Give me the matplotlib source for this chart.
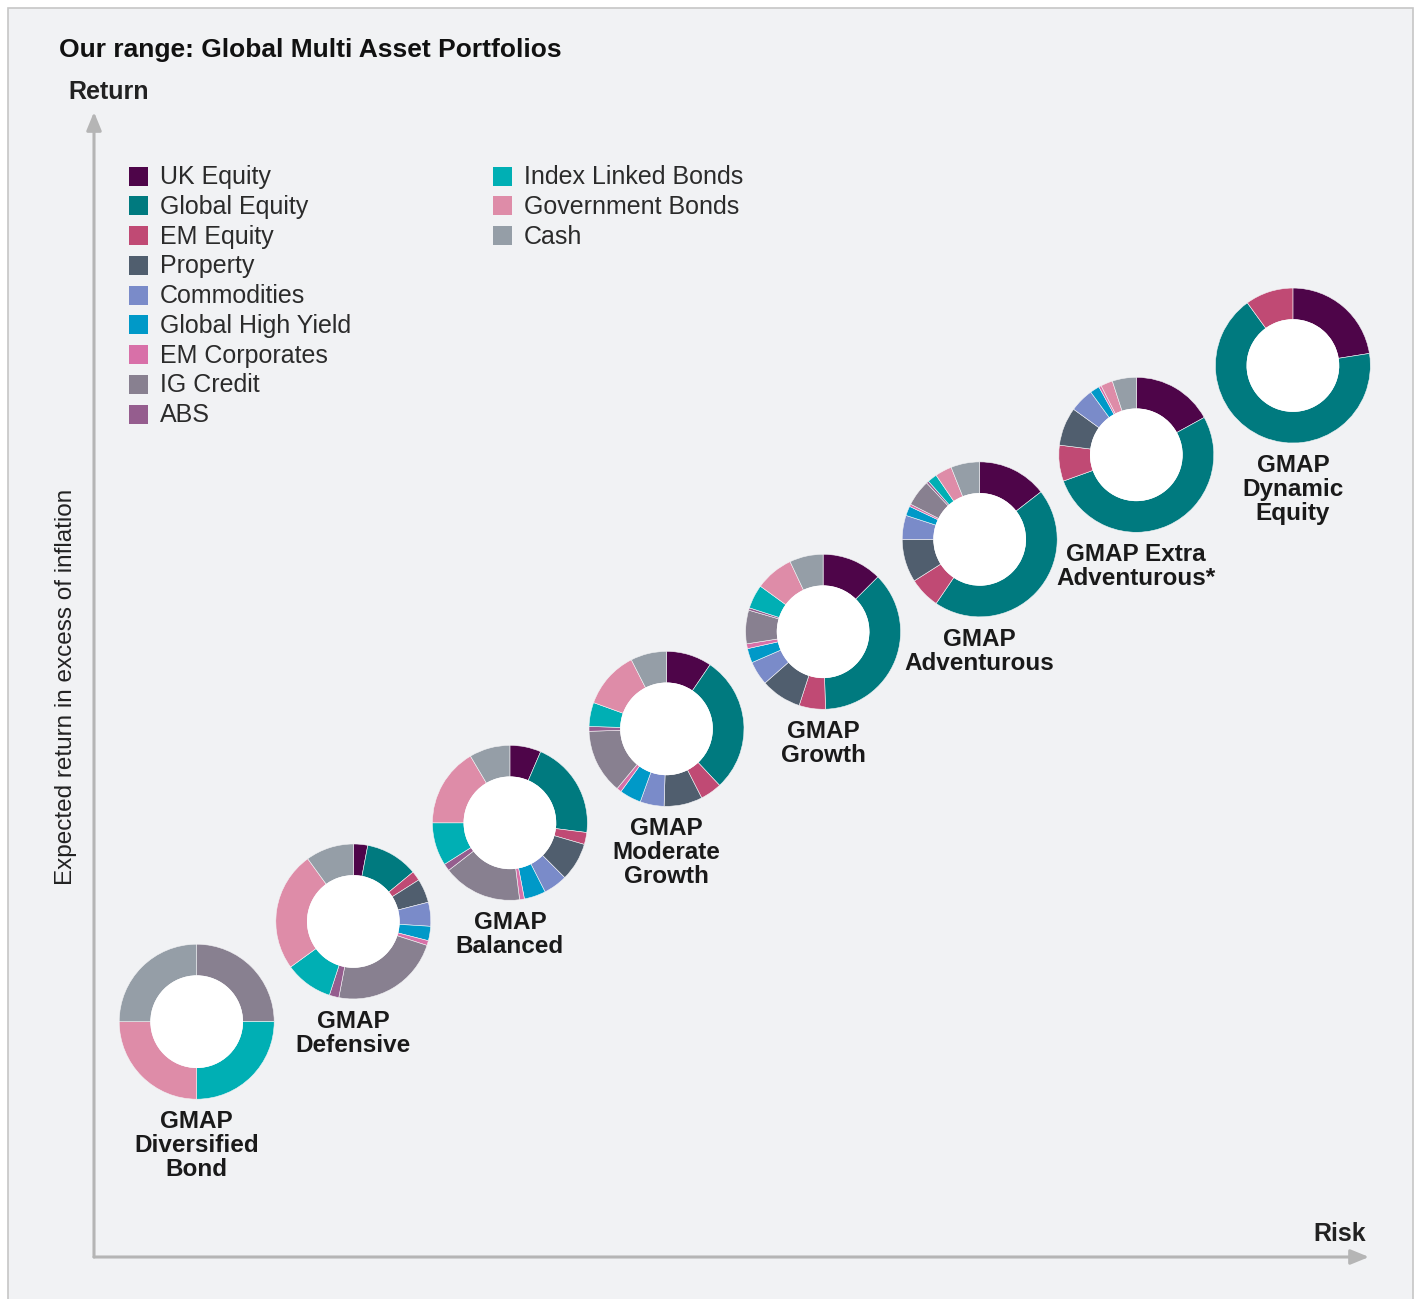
import matplotlib
matplotlib.use("Agg")
import matplotlib.pyplot as plt
from matplotlib.patches import Rectangle, Circle

# ---------------- data ----------------
asset_classes = ["UK Equity", "Global Equity", "EM Equity", "Property", "Commodities",
                 "Global High Yield", "EM Corporates", "IG Credit", "ABS",
                 "Index Linked Bonds", "Government Bonds", "Cash"]
asset_colors = ["#4e0549", "#007a7f", "#c04a74", "#505e6e", "#7a8bc9",
                "#0099c8", "#d870a8", "#888090", "#955d8e",
                "#00afb4", "#de8ca8", "#959ea7"]

portfolios = ["GMAP\nDiversified\nBond", "GMAP\nDefensive", "GMAP\nBalanced",
              "GMAP\nModerate\nGrowth", "GMAP\nGrowth", "GMAP\nAdventurous",
              "GMAP Extra\nAdventurous*", "GMAP\nDynamic\nEquity"]

# allocation (%) per asset class, order as asset_classes
alloc_diversified_bond = [0, 0, 0, 0, 0, 0, 0, 25, 0, 25, 25, 25]
alloc_defensive        = [3, 11, 2, 5, 5, 3, 1, 23, 2, 10, 25, 10]
alloc_balanced         = [6.5, 20.5, 2.5, 8, 5, 4.5, 1, 16.5, 1.5, 9, 16.5, 8.5]
alloc_moderate_growth  = [9.5, 28.5, 4.5, 8, 5, 4.5, 1, 13.5, 1, 5, 12, 7.5]
alloc_growth           = [12.5, 37, 5.5, 8.5, 5, 3, 1, 7, 0.5, 5, 8, 7]
alloc_adventurous      = [14.5, 45, 6.5, 9, 5, 2, 0.5, 5.5, 0.5, 2, 3.5, 6]
alloc_extra_adventurous = [17, 52.5, 7.5, 8, 5, 2, 0.5, 0, 0, 0, 2.5, 5]
alloc_dynamic_equity   = [22.5, 67.5, 10, 0, 0, 0, 0, 0, 0, 0, 0, 0]

allocations = [alloc_diversified_bond, alloc_defensive, alloc_balanced,
               alloc_moderate_growth, alloc_growth, alloc_adventurous,
               alloc_extra_adventurous, alloc_dynamic_equity]

# relative risk / expected return positions (arbitrary units)
risk_level = [1, 2, 3, 4, 5, 6, 7, 8]
return_level = [1.0, 1.64, 2.27, 2.87, 3.49, 4.08, 4.62, 5.19]

# ---------------- layout ----------------
W, H = 1418, 1299
DPI = 100
BG = "#f1f2f4"
AXC = "#b5b5b5"
TXT = "#1a1a1a"
FONT = ["Liberation Sans", "DejaVu Sans"]
plt.rcParams["font.family"] = FONT

fig = plt.figure(figsize=(W / DPI, H / DPI), dpi=DPI)
fig.patch.set_facecolor("white")

# overlay axes in pixel coordinates for frame / titles / legend
ov = fig.add_axes([0, 0, 1, 1])
ov.set_xlim(0, W)
ov.set_ylim(H, 0)
ov.axis("off")
ov.add_patch(Rectangle((8, 8), 1405, H + 10, facecolor=BG, edgecolor="#c6c6c6", lw=1.2, zorder=0))

ov.text(59, 57, "Our range: Global Multi Asset Portfolios", fontsize=19, fontweight="bold",
        color="#111111", ha="left", va="baseline")
ov.text(68, 99, "Return", fontsize=18, fontweight="bold", color="#222222", ha="left", va="baseline")
ov.text(1366, 1241, "Risk", fontsize=18, fontweight="bold", color="#222222", ha="right", va="baseline")
ov.text(66, 687, "Expected return in excess of inflation", fontsize=17.5, color="#222222",
        rotation=90, ha="center", va="center")

# legend (9 + 3 layout)
row_h = 29.75
for i, (name, col) in enumerate(zip(asset_classes, asset_colors)):
    if i < 9:
        x0, r = 129, i
    else:
        x0, r = 493, i - 9
    yc = 176 + r * row_h
    ov.add_patch(Rectangle((x0, yc - 9.5), 19, 19, facecolor=col, edgecolor="none"))
    ov.text(x0 + 31, yc + 8, name, fontsize=18, color="#2b2b2b", ha="left", va="baseline")

# plot axes: origin of arrows
px_left, px_right, px_bottom, px_top = 94, 1369, 1257, 112
scale = 156.6  # pixels per unit
x_first_px, y_first_px = 196.7, 1021.7
ax = fig.add_axes([px_left / W, (H - px_bottom) / H, (px_right - px_left) / W, (px_bottom - px_top) / H])
ax.patch.set_alpha(0)

R_out = 77.5 / scale
R_in = 46.0 / scale

for name, alloc, rx, ry in zip(portfolios, allocations, risk_level, return_level):
    vals = [v for v in alloc if v > 0]
    cols = [c for v, c in zip(alloc, asset_colors) if v > 0]
    ax.pie(vals, colors=cols, startangle=90, counterclock=False, radius=R_out,
           center=(rx, ry), wedgeprops=dict(width=R_out - R_in, edgecolor="#f4f4f6", linewidth=0.4))
    ax.add_patch(Circle((rx, ry), R_in + 0.002, facecolor="white", edgecolor="none", zorder=3))
    for j, line in enumerate(name.split("\n")):
        ax.annotate(line, xy=(rx, ry), xytext=(0, -(106.5 + 24 * j)), textcoords="offset pixels",
                    ha="center", va="baseline", fontsize=17.5, fontweight="bold", color=TXT)

x0 = risk_level[0] - (x_first_px - px_left) / scale
x1 = risk_level[0] + (px_right - x_first_px) / scale
y0 = return_level[0] - (px_bottom - y_first_px) / scale
y1 = return_level[0] + (y_first_px - px_top) / scale
ax.set_aspect("auto")
ax.set_xlim(x0, x1)
ax.set_ylim(y0, y1)
ax.set_frame_on(False)
ax.set_xticks([])
ax.set_yticks([])

arrow = dict(arrowstyle="-|>,head_length=1.1,head_width=0.45", color=AXC, lw=2.2, shrinkA=0, shrinkB=0)
ax.annotate("", xy=(1, 0), xytext=(0, 0), xycoords="axes fraction", arrowprops=arrow)
ax.annotate("", xy=(0, 1), xytext=(0, 0), xycoords="axes fraction", arrowprops=arrow)

fig.savefig("out.png", dpi=DPI, facecolor=fig.get_facecolor())
